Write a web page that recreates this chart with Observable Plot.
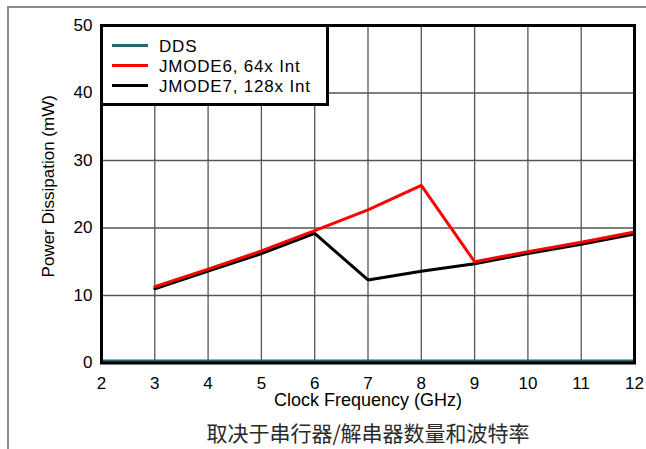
<!DOCTYPE html>
<html>
<head>
<meta charset="utf-8">
<script src="https://cdn.jsdelivr.net/npm/d3@7"></script>
<script src="https://cdn.jsdelivr.net/npm/@observablehq/plot@0.6"></script>
<style>
  html, body { margin: 0; padding: 0; background: #fff; }
  #wrap { position: relative; width: 646px; height: 449px; overflow: hidden; font-family: "Liberation Sans", Arial, sans-serif; }
  #border { position: absolute; left: 7px; top: 6px; width: 700px; height: 500px; border-top: 2px solid #8a8a8a; border-left: 2px solid #8a8a8a; }
  #legend { position: absolute; left: 100px; top: 24px; width: 229px; height: 82px; box-sizing: border-box; border: 3px solid #000; background: #fff; }
  .row { position: absolute; left: 0; height: 20px; width: 100%; }
  .sw { position: absolute; left: 9px; top: 6.5px; width: 36px; height: 3px; }
  .lab { position: absolute; left: 56px; top: 0; line-height: 20px; font-size: 17px; letter-spacing: 0.8px; color: #000; white-space: nowrap; }
</style>
</head>
<body>
<div id="wrap"><div id="border"></div></div>
<script>
// Data
const ddsFreq = [2, 3, 4, 5, 6, 7, 8, 9, 10, 11, 12];
const ddsPower = [0.3, 0.3, 0.3, 0.3, 0.3, 0.3, 0.3, 0.3, 0.3, 0.3, 0.3];
const freq = [3, 4, 5, 6, 7, 8, 9, 10, 11, 12];
const jmode6Power = [11.3, 13.9, 16.6, 19.6, 22.7, 26.3, 15.0, 16.5, 17.9, 19.4];
const jmode7Power = [11.0, 13.6, 16.2, 19.2, 12.3, 13.6, 14.7, 16.2, 17.6, 19.1];
const seriesNames = ["DDS", "JMODE6, 64x Int", "JMODE7, 128x Int"];
const seriesColors = ["#26646f", "#ff0000", "#000000"];
const xTicks = [2, 3, 4, 5, 6, 7, 8, 9, 10, 11, 12];
const yTicks = [0, 10, 20, 30, 40, 50];
const xLabel = "Clock Frequency (GHz)";
const yLabel = "Power Dissipation (mW)";
const caption = "取决于串行器/解串器数量和波特率";

const dds = ddsFreq.map((f, i) => ({f, p: ddsPower[i]}));
const j6 = freq.map((f, i) => ({f, p: jmode6Power[i]}));
const j7 = freq.map((f, i) => ({f, p: jmode7Power[i]}));

const chart = Plot.plot({
  width: 646,
  height: 449,
  marginLeft: 101,
  marginRight: 12,
  marginTop: 25,
  marginBottom: 86.5,
  style: {fontFamily: "'Liberation Sans', Arial, sans-serif", fontSize: "16px", background: "transparent", color: "#000"},
  x: {domain: [2, 12], axis: null},
  y: {domain: [0, 50], axis: null},
  marks: [
    Plot.gridX(xTicks, {stroke: "#555", strokeOpacity: 1, strokeWidth: 1.3}),
    Plot.gridY(yTicks, {stroke: "#555", strokeOpacity: 1, strokeWidth: 1.3}),
    Plot.line(dds, {x: "f", y: "p", stroke: seriesColors[0], strokeWidth: 3}),
    Plot.line(j7, {x: "f", y: "p", stroke: seriesColors[2], strokeWidth: 3}),
    Plot.line(j6, {x: "f", y: "p", stroke: seriesColors[1], strokeWidth: 3}),
    Plot.frame({stroke: "#000", strokeWidth: 3}),
    Plot.axisX(xTicks, {tickSize: 0, tickPadding: 14, label: null, fontSize: 17}),
    Plot.axisY(yTicks, {tickSize: 0, tickPadding: 9, label: null, fontSize: 17}),
    Plot.text([xLabel], {text: d => d, frameAnchor: "bottom", dy: 43, fontSize: 18, fill: "#000"}),
    Plot.text([yLabel], {text: d => d, frameAnchor: "left", textAnchor: "middle", dx: -53, dy: -8, rotate: -90, fontSize: 17, fill: "#000"}),
    Plot.text([caption], {text: d => d, frameAnchor: "bottom", dy: 78, fontSize: 21, fill: "#2a2a2a", fontFamily: "'Noto Sans CJK SC', sans-serif"})
  ]
});
chart.style.position = "absolute";
chart.style.left = "0px";
chart.style.top = "0px";
const wrap = document.getElementById("wrap");
wrap.appendChild(chart);

const legend = document.createElement("div");
legend.id = "legend";
seriesNames.forEach((name, i) => {
  const row = document.createElement("div");
  row.className = "row";
  row.style.top = (10 + i * 20) + "px";
  const sw = document.createElement("div");
  sw.className = "sw";
  sw.style.background = seriesColors[i];
  const lab = document.createElement("div");
  lab.className = "lab";
  lab.textContent = name;
  row.appendChild(sw);
  row.appendChild(lab);
  legend.appendChild(row);
});
wrap.appendChild(legend);
</script>
</body>
</html>
